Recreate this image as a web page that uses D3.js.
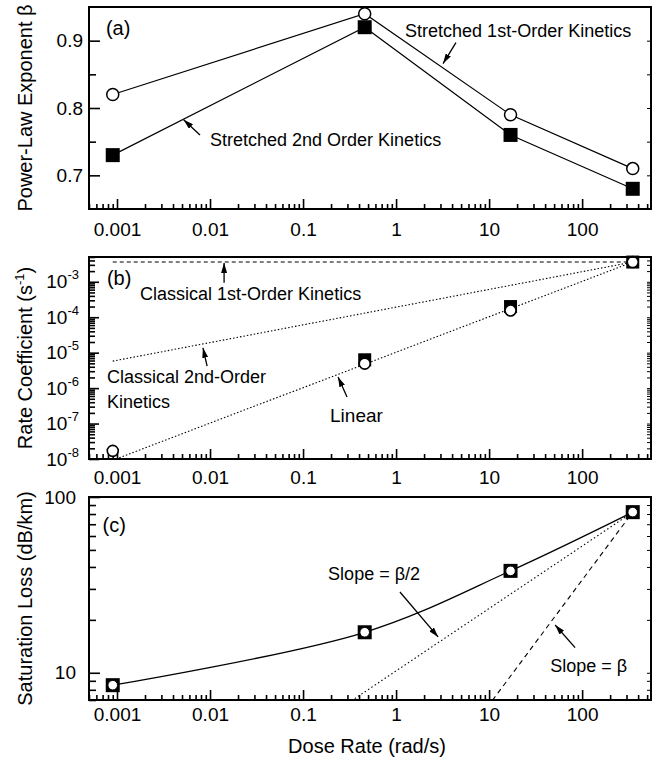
<!DOCTYPE html>
<html>
<head>
<meta charset="utf-8">
<script src="https://cdn.jsdelivr.net/npm/d3@7"></script>
<style>
  html, body { margin: 0; padding: 0; background: #fff; }
  svg { display: block; font-family: "Liberation Sans", Arial, sans-serif; }
</style>
</head>
<body>
<svg id="chart" width="658" height="770"></svg>
<script>
// ---- data -------------------------------------------------------------
const doseRate = [0.0009, 0.46, 17, 350];               // rad/s
const betaStretched1st = [0.82, 0.94, 0.79, 0.71];      // open circles
const betaStretched2nd = [0.73, 0.92, 0.76, 0.68];      // filled squares
const rateStretched1st = [1.7e-8, 4.9e-6, 1.55e-4, 3.6e-3];
const rateStretched2nd = [null, 6.3e-6, 2.0e-4, 3.6e-3];
const saturationLoss = [8.5, 17, 38, 82];               // dB/km

const doseTicks = [0.001, 0.01, 0.1, 1, 10, 100];
const betaTicks = [0.7, 0.8, 0.9];
const betaMinorTicks = [0.75, 0.85];
const rateTicks = [1e-8, 1e-7, 1e-6, 1e-5, 1e-4, 1e-3];
const lossTicks = [10, 100];

// classical kinetics reference lines in panel (b): log-log slopes
const classicalSlopes = [
  { name: "first", slope: 0, dash: "4,3" },
  { name: "second", slope: 0.5, dash: "1.5,2" },
  { name: "linear", slope: 1, dash: "1.5,2" }
];
// panel (c) reference lines: slope beta/2 and beta, with beta at highest dose rate
const betaRef = betaStretched1st[3];
const lossSlopes = [
  { name: "half", slope: betaRef / 2, dash: "1.5,2.5" },
  { name: "full", slope: betaRef, dash: "5,4" }
];

// ---- layout -----------------------------------------------------------
const svg = d3.select("#chart");
const left = 89, right = 651;
const x = d3.scaleLog().domain([0.0005, 550]).range([left, right]);

const panelA = { top: 7, bottom: 209, labelPad: 14 };
const panelB = { top: 257, bottom: 459, labelPad: 12 };
const panelC = { top: 497, bottom: 700, labelPad: 8 };
panelA.y = d3.scaleLinear().domain([0.65, 0.95]).range([panelA.bottom, panelA.top]);
panelB.y = d3.scaleLog().domain([1e-8, 5e-3]).range([panelB.bottom, panelB.top]);
panelC.y = d3.scaleLog().domain([7, 100]).range([panelC.bottom, panelC.top]);

const FONT = "'Liberation Sans', Arial, sans-serif";
const isPow10 = v => Math.abs(Math.log10(v) - Math.round(Math.log10(v))) < 1e-9;

// arrowhead marker
svg.append("defs").append("marker")
  .attr("id", "arrow")
  .attr("markerUnits", "userSpaceOnUse")
  .attr("viewBox", "0 0 10 6")
  .attr("markerWidth", 10).attr("markerHeight", 6)
  .attr("refX", 10).attr("refY", 3)
  .attr("orient", "auto")
  .append("path").attr("d", "M0,0 L10,3 L0,6 Z").attr("fill", "#000");

function styleAxis(g, size) {
  g.attr("font-family", FONT).attr("font-size", size);
  g.select(".domain").remove();
  g.selectAll(".tick line").attr("stroke", "#000").attr("stroke-width", 1.6);
  g.selectAll(".tick text").attr("fill", "#000");
}

function drawXAxis(p) {
  const minor = x.ticks().filter(v => !isPow10(v));
  svg.append("g").attr("transform", `translate(0,${p.bottom})`)
    .call(d3.axisBottom(x).tickValues(minor).tickSizeInner(-5).tickSizeOuter(0).tickFormat(""))
    .call(g => styleAxis(g, 19));
  svg.append("g").attr("transform", `translate(0,${p.bottom})`)
    .call(d3.axisBottom(x).tickValues(doseTicks).tickSizeInner(-10).tickSizeOuter(0)
      .tickPadding(p.labelPad).tickFormat(d => String(d)))
    .call(g => styleAxis(g, 19));
}

function drawFrame(p) {
  svg.append("rect")
    .attr("x", left).attr("y", p.top)
    .attr("width", right - left).attr("height", p.bottom - p.top)
    .attr("fill", "none").attr("stroke", "#000").attr("stroke-width", 2);
}

function clipFor(p, id) {
  svg.select("defs").append("clipPath").attr("id", id)
    .append("rect").attr("x", left).attr("y", p.top)
    .attr("width", right - left).attr("height", p.bottom - p.top);
  return svg.append("g").attr("clip-path", `url(#${id})`);
}

function annotate(p, items) {
  items.forEach(t => {
    if (t.text) {
      svg.append("text")
        .attr("x", x(t.x)).attr("y", p.y(t.y))
        .attr("font-family", FONT).attr("font-size", t.size || 18)
        .attr("fill", "#000").text(t.text);
    } else {
      svg.append("line")
        .attr("x1", x(t.x1)).attr("y1", p.y(t.y1))
        .attr("x2", x(t.x2)).attr("y2", p.y(t.y2))
        .attr("stroke", "#000").attr("stroke-width", 1.3)
        .attr("marker-end", "url(#arrow)");
    }
  });
}

function yTitle(cy, parts) {
  const t = svg.append("text")
    .attr("transform", `translate(32,${cy}) rotate(-90)`)
    .attr("text-anchor", "middle")
    .attr("font-family", FONT).attr("font-size", 20).attr("fill", "#000");
  parts.forEach(pt => {
    const s = t.append("tspan").text(pt.text);
    if (pt.sup) s.attr("font-size", 13).attr("dy", -8);
    if (pt.after) s.attr("dy", 8);
  });
}

// ---- panel (a): power-law exponent -------------------------------------
{
  const p = panelA;
  drawXAxis(p);
  const ya = p.y;
  svg.append("g").attr("transform", `translate(${left},0)`)
    .call(d3.axisLeft(ya).tickValues(betaMinorTicks).tickSizeInner(-7).tickSizeOuter(0).tickFormat(""))
    .call(g => styleAxis(g, 19));
  svg.append("g").attr("transform", `translate(${left},0)`)
    .call(d3.axisLeft(ya).tickValues(betaTicks).tickSizeInner(-11).tickSizeOuter(0)
      .tickPadding(6).tickFormat(d3.format(".1f")))
    .call(g => styleAxis(g, 19));
  svg.append("g").attr("transform", `translate(${right},0)`)
    .call(d3.axisRight(ya).tickValues(betaTicks.concat(betaMinorTicks)).tickSizeInner(-4).tickSizeOuter(0).tickFormat(""))
    .call(g => { styleAxis(g, 19); g.selectAll(".tick line").attr("stroke-width", 1); });

  const line = d3.line().x(d => x(d[0])).y(d => ya(d[1]));
  const g = svg.append("g");
  [betaStretched1st, betaStretched2nd].forEach(series => {
    g.append("path").datum(d3.zip(doseRate, series))
      .attr("d", line).attr("fill", "none").attr("stroke", "#000").attr("stroke-width", 1.2);
  });
  g.selectAll(".sq").data(d3.zip(doseRate, betaStretched2nd)).join("rect")
    .attr("x", d => x(d[0]) - 7).attr("y", d => ya(d[1]) - 7)
    .attr("width", 14).attr("height", 14).attr("fill", "#000");
  g.selectAll(".ci").data(d3.zip(doseRate, betaStretched1st)).join("circle")
    .attr("cx", d => x(d[0])).attr("cy", d => ya(d[1])).attr("r", 6)
    .attr("fill", "#fff").attr("stroke", "#000").attr("stroke-width", 1.5);
  drawFrame(p);

  annotate(p, [
    { text: "(a)", x: 0.00076, y: 0.909, size: 20 },
    { text: "Stretched 1st-Order Kinetics", x: 1.25, y: 0.9055 },
    { x1: 4.4, y1: 0.897, x2: 3.2, y2: 0.866 },
    { text: "Stretched 2nd Order Kinetics", x: 0.01, y: 0.744 },
    { x1: 0.0078, y1: 0.760, x2: 0.0052, y2: 0.7826 }
  ]);
  yTitle((p.top + p.bottom) / 2, [{ text: "Power-Law Exponent β" }]);
}

// ---- panel (b): rate coefficient ---------------------------------------
{
  const p = panelB;
  drawXAxis(p);
  const yb = p.y;
  const minor = yb.ticks().filter(v => !isPow10(v));
  svg.append("g").attr("transform", `translate(${left},0)`)
    .call(d3.axisLeft(yb).tickValues(minor).tickSizeInner(-6).tickSizeOuter(0).tickFormat(""))
    .call(g => styleAxis(g, 19));
  svg.append("g").attr("transform", `translate(${left},0)`)
    .call(d3.axisLeft(yb).tickValues(rateTicks).tickSizeInner(-10).tickSizeOuter(0).tickFormat(""))
    .call(g => styleAxis(g, 19));
  svg.append("g").attr("transform", `translate(${right},0)`)
    .call(d3.axisRight(yb).tickValues(yb.ticks()).tickSizeInner(-4).tickSizeOuter(0).tickFormat(""))
    .call(g => { styleAxis(g, 19); g.selectAll(".tick line").attr("stroke-width", 1); });

  // tick labels 10^n
  const lab = svg.append("g").attr("font-family", FONT).attr("fill", "#000");
  rateTicks.forEach(v => {
    const t = lab.append("text").attr("x", 79).attr("y", yb(v)).attr("dy", "0.35em")
      .attr("text-anchor", "end").attr("font-size", 19);
    t.append("tspan").text("10");
    t.append("tspan").attr("font-size", 13).attr("dy", -9).text(String(Math.round(Math.log10(v))));
  });

  // classical kinetics lines anchored at the highest dose rate
  const g = clipFor(p, "clipB");
  const x0 = doseRate[0], x1 = doseRate[3], y1 = rateStretched1st[3];
  const line = d3.line().x(d => x(d[0])).y(d => yb(d[1]));
  classicalSlopes.forEach(s => {
    const pts = [[x0, y1 * Math.pow(x0 / x1, s.slope)], [x1, y1]];
    g.append("path").datum(pts).attr("d", line)
      .attr("fill", "none").attr("stroke", "#000").attr("stroke-width", 1.1)
      .attr("stroke-dasharray", s.dash);
  });

  const pts2 = d3.zip(doseRate, rateStretched2nd).filter(d => d[1] != null);
  svg.append("g").selectAll("rect").data(pts2).join("rect")
    .attr("x", d => x(d[0]) - 6.5).attr("y", d => yb(d[1]) - 6.5)
    .attr("width", 13).attr("height", 13).attr("fill", "#000");
  svg.append("g").selectAll("circle").data(d3.zip(doseRate, rateStretched1st)).join("circle")
    .attr("cx", d => x(d[0])).attr("cy", d => yb(d[1])).attr("r", 5.5)
    .attr("fill", "#fff").attr("stroke", "#000").attr("stroke-width", 1.6);
  drawFrame(p);

  annotate(p, [
    { text: "(b)", x: 0.00078, y: 8.2e-4, size: 20 },
    { text: "Classical 1st-Order Kinetics", x: 0.00177, y: 3.1e-4 },
    { x1: 0.01416, y1: 9.4e-4, x2: 0.01416, y2: 3.4e-3 },
    { text: "Classical 2nd-Order", x: 0.00078, y: 1.4e-6 },
    { text: "Kinetics", x: 0.00078, y: 2.76e-7 },
    { x1: 0.0093, y1: 4.2e-6, x2: 0.0084, y2: 1.37e-5 },
    { text: "Linear", x: 0.195, y: 1.1e-7, size: 19 },
    { x1: 0.297, y1: 5.6e-7, x2: 0.238, y2: 2.07e-6 }
  ]);
  yTitle((p.top + p.bottom) / 2, [
    { text: "Rate Coefficient (s" }, { text: "-1", sup: true }, { text: ")", after: true }
  ]);
}

// ---- panel (c): saturation loss ----------------------------------------
{
  const p = panelC;
  drawXAxis(p);
  const yc = p.y;
  const minor = yc.ticks().filter(v => !isPow10(v));
  svg.append("g").attr("transform", `translate(${left},0)`)
    .call(d3.axisLeft(yc).tickValues(minor).tickSizeInner(-7).tickSizeOuter(0).tickFormat(""))
    .call(g => styleAxis(g, 19));
  svg.append("g").attr("transform", `translate(${left},0)`)
    .call(d3.axisLeft(yc).tickValues(lossTicks).tickSizeInner(-11).tickSizeOuter(0)
      .tickPadding(13).tickFormat(d => String(d)))
    .call(g => styleAxis(g, 19));
  svg.append("g").attr("transform", `translate(${right},0)`)
    .call(d3.axisRight(yc).tickValues(yc.ticks()).tickSizeInner(-4).tickSizeOuter(0).tickFormat(""))
    .call(g => { styleAxis(g, 19); g.selectAll(".tick line").attr("stroke-width", 1); });

  const g = clipFor(p, "clipC");
  const xa = doseRate[3], ya = saturationLoss[3];
  const line = d3.line().x(d => x(d[0])).y(d => yc(d[1]));
  lossSlopes.forEach(s => {
    const xs = 0.0005;
    const pts = [[xs, ya * Math.pow(xs / xa, s.slope)], [xa, ya]];
    g.append("path").datum(pts).attr("d", line)
      .attr("fill", "none").attr("stroke", "#000").attr("stroke-width", 1.1)
      .attr("stroke-dasharray", s.dash);
  });

  const pts = d3.zip(doseRate, saturationLoss);
  svg.append("path").datum(pts)
    .attr("d", d3.line().x(d => x(d[0])).y(d => yc(d[1])).curve(d3.curveCatmullRom.alpha(0.5)))
    .attr("fill", "none").attr("stroke", "#000").attr("stroke-width", 1.3);
  svg.append("g").selectAll("rect").data(pts).join("rect")
    .attr("x", d => x(d[0]) - 7).attr("y", d => yc(d[1]) - 7)
    .attr("width", 14).attr("height", 14).attr("fill", "#000");
  svg.append("g").selectAll("circle").data(pts).join("circle")
    .attr("cx", d => x(d[0])).attr("cy", d => yc(d[1])).attr("r", 4.8)
    .attr("fill", "#fff").attr("stroke", "#000").attr("stroke-width", 1);
  drawFrame(p);

  annotate(p, [
    { text: "(c)", x: 0.0007, y: 63, size: 20 },
    { text: "Slope = β/2", x: 0.186, y: 33.7 },
    { x1: 1.1, y1: 28.8, x2: 2.83, y2: 16.0 },
    { text: "Slope = β", x: 45.3, y: 10.1 },
    { x1: 84, y1: 13.9, x2: 51.3, y2: 18.7 }
  ]);
  yTitle((p.top + p.bottom) / 2, [{ text: "Saturation Loss (dB/km)" }]);
}

// shared x-axis title
svg.append("text")
  .attr("x", (left + right) / 2 - 3).attr("y", 753)
  .attr("text-anchor", "middle")
  .attr("font-family", FONT).attr("font-size", 20).attr("fill", "#000")
  .text("Dose Rate (rad/s)");
</script>
</body>
</html>
